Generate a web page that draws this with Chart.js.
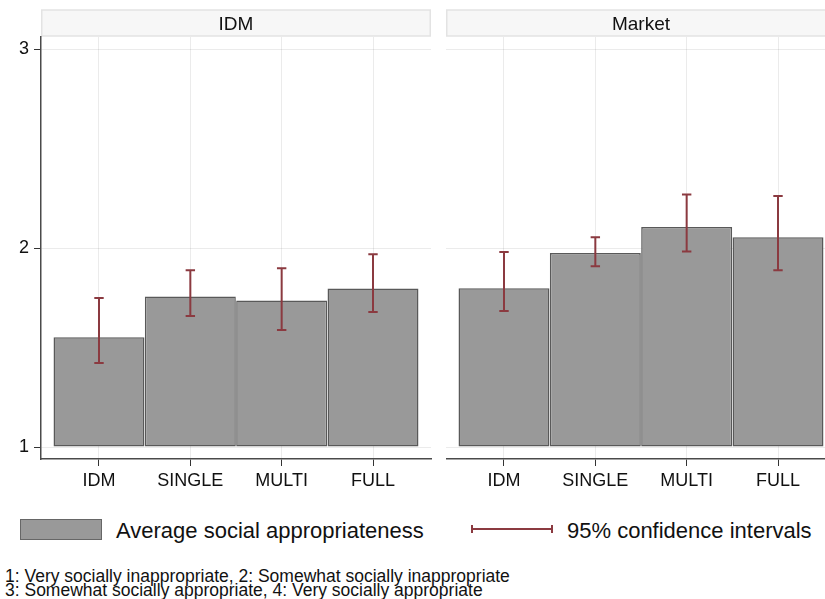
<!DOCTYPE html>
<html><head><meta charset="utf-8">
<script src="https://cdn.jsdelivr.net/npm/chart.js@4"></script>
<style>
html,body{margin:0;padding:0;background:#fff;}
body{width:825px;height:599px;overflow:hidden;position:relative;font-family:"Liberation Sans",Arial,Helvetica,sans-serif;color:#111;}
canvas{position:absolute;top:0;}
#c1{left:0;}
#c2{left:446px;}
.t{position:absolute;white-space:nowrap;}
</style></head><body>
<canvas id="c1" width="432" height="500"></canvas>
<canvas id="c2" width="391" height="500"></canvas>

<div style="position:absolute;left:20px;top:519px;width:82px;height:21px;box-sizing:border-box;background:#999;border:1px solid #666;"></div>
<div class="t" id="lg1" style="left:116px;top:519.7px;font-size:22px;line-height:22px;"></div>
<div style="position:absolute;left:471px;top:528px;width:82px;height:2px;background:#8b3a40;"></div>
<div style="position:absolute;left:471px;top:525px;width:2px;height:8px;background:#8b3a40;"></div>
<div style="position:absolute;left:551px;top:525px;width:2px;height:8px;background:#8b3a40;"></div>
<div class="t" id="lg2" style="left:567px;top:519.7px;font-size:22px;line-height:22px;"></div>
<div class="t" id="fn1" style="left:5px;top:567.5px;font-size:17.5px;line-height:17.5px;"></div>
<div class="t" id="fn2" style="left:5px;top:582px;font-size:17.5px;line-height:17.5px;"></div>

<script>
// ---- data ----
const categories = ['IDM', 'SINGLE', 'MULTI', 'FULL'];
const xPositions = [1, 2, 3, 4];
const panelTitles = ['IDM', 'Market'];
const idmMeans  = [1.552, 1.757, 1.737, 1.797];
const idmLower  = [1.423, 1.659, 1.589, 1.679];
const idmUpper  = [1.750, 1.889, 1.899, 1.970];
const marketMeans = [1.799, 1.976, 2.107, 2.055];
const marketLower = [1.684, 1.909, 1.983, 1.889];
const marketUpper = [1.981, 2.055, 2.270, 2.262];
const yTicks = [1, 2, 3];
const legendLabels = ['Average social appropriateness', '95% confidence intervals'];
const footnotes = ['1: Very socially inappropriate, 2: Somewhat socially inappropriate',
                   '3: Somewhat socially appropriate, 4: Very socially appropriate'];

document.getElementById('lg1').textContent = legendLabels[0];
document.getElementById('lg2').textContent = legendLabels[1];
document.getElementById('fn1').textContent = footnotes[0];
document.getElementById('fn2').textContent = footnotes[1];

const FAMILY = '"Liberation Sans", Arial, Helvetica, sans-serif';
const GRID = 'rgba(0,0,0,0.08)';
const CI_COLOR = '#8b3a40';

const headerPlugin = {
  id: 'panelHeader',
  beforeDraw(chart, args, opts) {
    const {ctx, chartArea: a} = chart;
    ctx.save();
    ctx.fillStyle = '#f7f7f7';
    ctx.strokeStyle = '#e3e3e3';
    ctx.lineWidth = 1.5;
    ctx.fillRect(a.left + 0.75, 10, a.right - a.left - 1.5, 26);
    ctx.strokeRect(a.left + 0.75, 10, a.right - a.left - 1.5, 26);
    ctx.fillStyle = '#111';
    ctx.font = '19px ' + FAMILY;
    ctx.textAlign = 'center';
    ctx.textBaseline = 'alphabetic';
    ctx.fillText(opts.text, (a.left + a.right) / 2, 30);
    ctx.restore();
  }
};

const errorBarPlugin = {
  id: 'errorBars',
  afterDraw(chart, args, opts) {
    const {ctx, scales: {x, y}} = chart;
    const lower = opts.lower, upper = opts.upper;
    ctx.save();
    ctx.strokeStyle = CI_COLOR;
    ctx.lineWidth = 2;
    for (let i = 0; i < lower.length; i++) {
      const px = x.getPixelForValue(xPositions[i]);
      const yl = y.getPixelForValue(lower[i]);
      const yh = y.getPixelForValue(upper[i]);
      ctx.beginPath();
      ctx.moveTo(px, yl); ctx.lineTo(px, yh);
      ctx.moveTo(px - 4.7, yl); ctx.lineTo(px + 4.7, yl);
      ctx.moveTo(px - 4.7, yh); ctx.lineTo(px + 4.7, yh);
      ctx.stroke();
    }
    ctx.restore();
  }
};

function makePanel(id, title, means, lower, upper, showY) {
  return new Chart(document.getElementById(id), {
    type: 'bar',
    data: {
      datasets: [{
        label: legendLabels[0],
        data: xPositions.map((xv, i) => ({x: xv, y: means[i]})),
        base: 1,
        backgroundColor: '#999999',
        borderColor: '#595959',
        borderWidth: 1.5,
        borderSkipped: false,
        barPercentage: 0.996,
        categoryPercentage: 1
      }]
    },
    options: {
      responsive: false,
      animation: false,
      devicePixelRatio: 1,
      layout: {padding: {top: 37, right: 1, left: 0, bottom: 0}},
      plugins: {
        legend: {display: false},
        tooltip: {enabled: false},
        panelHeader: {text: title},
        errorBars: {lower: lower, upper: upper}
      },
      scales: {
        x: {
          type: 'linear', min: 0.365, max: 4.635, offset: false, z: 1,
          afterBuildTicks: s => { s.ticks = xPositions.map(v => ({value: v})); },
          afterFit: s => { s.height = 41; },
          ticks: {
            callback: (v, i) => categories[i],
            font: {size: 18, family: FAMILY}, color: '#111', padding: 4,
            maxRotation: 0, autoSkip: false
          },
          grid: {color: GRID, lineWidth: 1, tickColor: '#333', tickLength: 7, offset: false, drawTicks: true},
          border: {display: true, color: '#4a4a4a', width: 1.5}
        },
        y: {
          min: 0.94, max: 3.062, z: 1,
          afterBuildTicks: s => { s.ticks = yTicks.map(v => ({value: v})); },
          afterFit: s => { s.width = showY ? 41 : 0; },
          ticks: {display: showY, font: {size: 18, family: FAMILY}, color: '#111', padding: 5},
          grid: {color: GRID, lineWidth: 1, tickColor: '#333', tickLength: 7, drawTicks: showY},
          border: {display: showY, color: '#4a4a4a', width: 1.5}
        }
      }
    },
    plugins: [headerPlugin, errorBarPlugin]
  });
}

makePanel('c1', panelTitles[0], idmMeans, idmLower, idmUpper, true);
makePanel('c2', panelTitles[1], marketMeans, marketLower, marketUpper, false);
</script>
</body></html>
